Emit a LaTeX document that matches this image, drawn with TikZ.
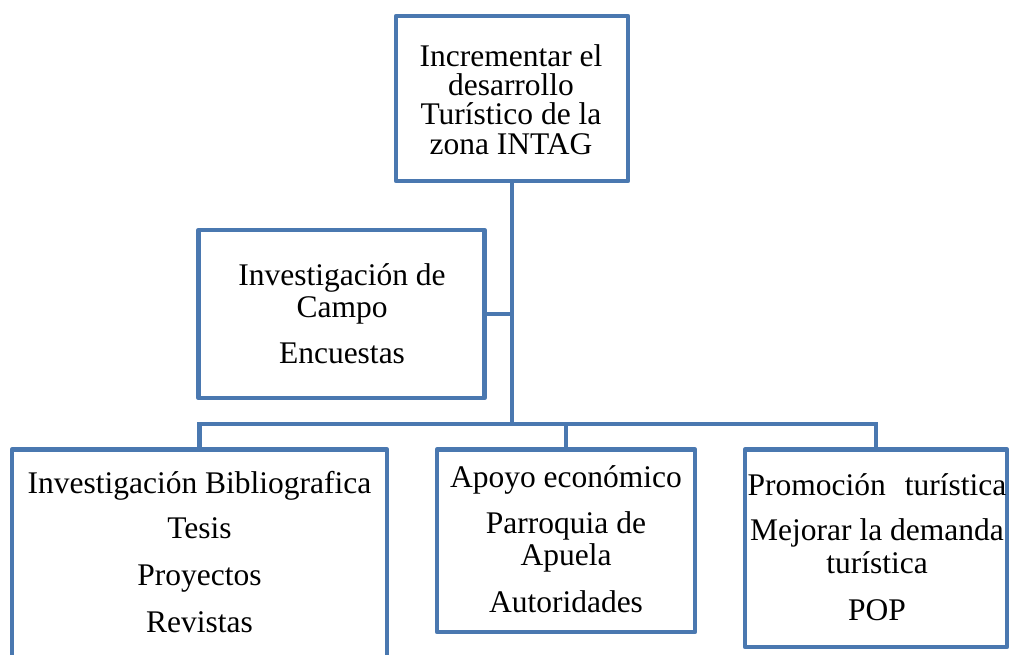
\documentclass[tikz,border=0pt]{standalone}
\usepackage{fontspec}
\setmainfont{Liberation Serif}
\definecolor{boxblue}{HTML}{4A78B0}
\begin{document}
\begin{tikzpicture}[x=1pt,y=-1pt,
  box/.style={draw=boxblue,line width=4.7pt,line join=round,rectangle,inner sep=0pt,fill=white},
  link/.style={draw=boxblue,line width=4.7pt},
  txt/.style={inner sep=0pt,anchor=base,font=\fontsize{31.5}{36}\selectfont}]
\useasboundingbox (0,0) rectangle (1010,654);
\clip (0,0) rectangle (1010,654);
% boxes
\node[box,minimum width=232pt,minimum height=165pt] (top) at (512,98.5) {};
\node[box,minimum width=286pt,minimum height=168pt] (campo) at (341.5,314) {};
\node[box,minimum width=375pt,minimum height=250pt] (biblio) at (199.5,574.5) {};
\node[box,minimum width=258pt,minimum height=182.5pt] (apoyo) at (566,540.75) {};
\node[box,minimum width=262pt,minimum height=197.5pt] (promo) at (876,548.25) {};
% connectors
\coordinate (j) at (512,424);
\draw[link] (top.south) -- (j);
\draw[link] (campo.east) -- (campo.east -| j);
\draw[link] (biblio.north) -- (biblio.north |- j) -- (promo.north |- j) -- (promo.north);
\draw[link] (apoyo.north) -- (apoyo.north |- j);
% texts
\node[txt] (t1) at (511,66) {Incrementar el};
\node[txt] (t2) at (511,95) {desarrollo};
\node[txt] (t3) at (511,124.5) {Turístico de la};
\node[txt] (t4) at (511,154) {zona INTAG};
\node[txt] (c1) at (342,285) {Investigación de};
\node[txt] (c2) at (342,317) {Campo};
\node[txt] (c3) at (342,363) {Encuestas};
\node[txt] (b1) at (199.5,493) {Investigación Bibliografica};
\node[txt] (b2) at (199.5,538) {Tesis};
\node[txt] (b3) at (199.5,585) {Proyectos};
\node[txt] (b4) at (199.5,632) {Revistas};
\node[txt] (a1) at (566,487) {Apoyo económico};
\node[txt] (a2) at (566,533) {Parroquia de};
\node[txt] (a3) at (566,565) {Apuela};
\node[txt] (a4) at (566,612) {Autoridades};
\node[txt] (p1) at (877,495) {Promoción\hspace{19pt}turística};
\node[txt] (p2) at (877,540) {Mejorar la demanda};
\node[txt] (p3) at (877,573) {turística};
\node[txt] (p4) at (877,620) {POP};
\end{tikzpicture}
\end{document}
